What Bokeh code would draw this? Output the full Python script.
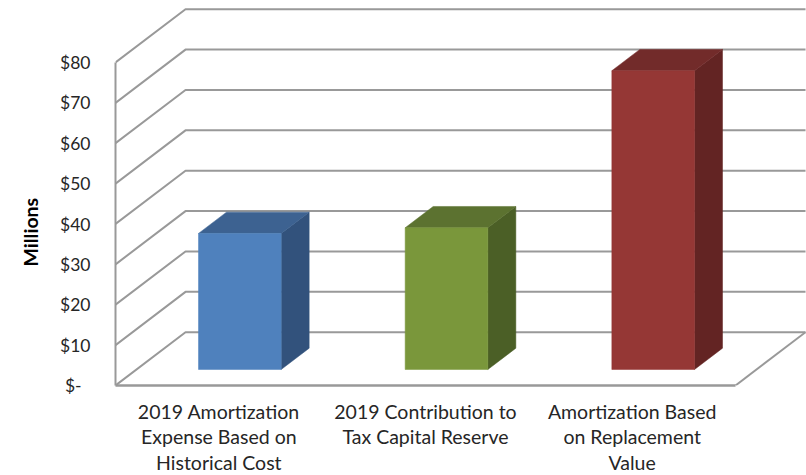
from bokeh.embed import file_html
from bokeh.models import FixedTicker, LinearAxis, Range1d, Title
from bokeh.plotting import figure
from bokeh.resources import INLINE

categories = [
    "2019 Amortization\nExpense Based on\nHistorical Cost",
    "2019 Contribution to\nTax Capital Reserve",
    "Amortization Based\non Replacement\nValue",
]
values = [33.7, 35.1, 74.0]
front_colors = ["#4F81BD", "#7A973B", "#953735"]
top_colors = ["#3D6291", "#5C7230", "#722B2A"]
side_colors = ["#32527C", "#4B5F26", "#632423"]
y_ticks = [0, 10, 20, 30, 40, 50, 60, 70, 80]
y_labels = ["$-  ", "$10", "$20", "$30", "$40", "$50", "$60", "$70", "$80"]

# Oblique projection: one full step into the chart moves the point by this
# much in category units and in dollars.
DEPTH_X = 0.3387
DEPTH_Y = 13.2
BAR_WIDTH = 0.4
BAR_NEAR = 0.3
BAR_FAR = 0.7
GRID_COLOR = "#999999"
TEXT_COLOR = "#262626"
FONT = "Lato"
PX_PER_CATEGORY = 206.67
PX_PER_DOLLAR = 4.0375


def project(x, y, depth):
    return x + DEPTH_X * depth, y + DEPTH_Y * depth


p = figure(
    width=806,
    height=475,
    frame_width=691,
    frame_height=385,
    min_border_left=115,
    min_border_right=0,
    min_border_top=0,
    min_border_bottom=90,
    x_range=Range1d(0, 691 / PX_PER_CATEGORY),
    y_range=Range1d(0, 385 / PX_PER_DOLLAR),
    x_axis_location=None,
    y_axis_location=None,
    toolbar_location=None,
    output_backend="svg",
    outline_line_color=None,
    background_fill_color="white",
    border_fill_color="white",
)
p.xgrid.visible = False
p.ygrid.visible = False

# Gridlines run from the front axis to the back wall, then across it.
for tick in y_ticks:
    bx, by = project(0, tick, 1)
    ex, ey = project(3, tick, 1)
    p.line([0, bx, ex], [tick, by, ey], line_color=GRID_COLOR, line_width=2)

# Right edge of the floor.
fx, fy = project(3, 0, 1)
p.line([3, fx], [0, fy], line_color=GRID_COLOR, line_width=2)

# Each bar is three quads: side, top and front.
for i, value in enumerate(values):
    left = i + 0.5 - BAR_WIDTH / 2
    right = i + 0.5 + BAR_WIDTH / 2
    nl_b = project(left, 0, BAR_NEAR)
    nr_b = project(right, 0, BAR_NEAR)
    nl_t = project(left, value, BAR_NEAR)
    nr_t = project(right, value, BAR_NEAR)
    fl_t = project(left, value, BAR_FAR)
    fr_t = project(right, value, BAR_FAR)
    fr_b = project(right, 0, BAR_FAR)
    faces = [
        ([nr_b, fr_b, fr_t, nr_t], side_colors[i]),
        ([nl_t, nr_t, fr_t, fl_t], top_colors[i]),
        ([nl_b, nr_b, nr_t, nl_t], front_colors[i]),
    ]
    for corners, color in faces:
        p.patch(
            [c[0] for c in corners],
            [c[1] for c in corners],
            fill_color=color,
            line_color=color,
            line_width=0.5,
        )

y_axis = LinearAxis(
    bounds=(0, 80),
    ticker=FixedTicker(ticks=y_ticks),
    major_label_overrides=dict(zip(y_ticks, y_labels)),
    axis_line_color=GRID_COLOR,
    axis_line_width=2,
    major_tick_line_color=None,
    minor_tick_line_color=None,
    major_tick_out=0,
    major_tick_in=0,
    minor_tick_out=0,
    minor_tick_in=0,
    major_label_standoff=25,
    major_label_text_font=FONT,
    major_label_text_font_size="17.5px",
    major_label_text_color=TEXT_COLOR,
)
p.add_layout(y_axis, "left")

# The axis title sits a little below the middle of the axis.
p.add_layout(
    Title(
        text="Millions",
        align="left",
        offset=119,
        standoff=31,
        text_font=FONT,
        text_font_size="19.5px",
        text_font_style="bold",
        text_color="#000000",
    ),
    "left",
)

cat_positions = [0.5, 1.5, 2.5]
x_axis = LinearAxis(
    bounds=(0, 3),
    ticker=FixedTicker(ticks=cat_positions),
    major_label_overrides=dict(zip(cat_positions, categories)),
    axis_line_color=GRID_COLOR,
    axis_line_width=2.5,
    major_tick_line_color=None,
    minor_tick_line_color=None,
    major_tick_out=0,
    major_tick_in=0,
    minor_tick_out=0,
    minor_tick_in=0,
    major_label_standoff=14,
    major_label_text_font=FONT,
    major_label_text_font_size="19.5px",
    major_label_text_color=TEXT_COLOR,
    major_label_text_line_height=1.12,
)
p.add_layout(x_axis, "below")

open("out.html", "w").write(file_html(p, INLINE))
